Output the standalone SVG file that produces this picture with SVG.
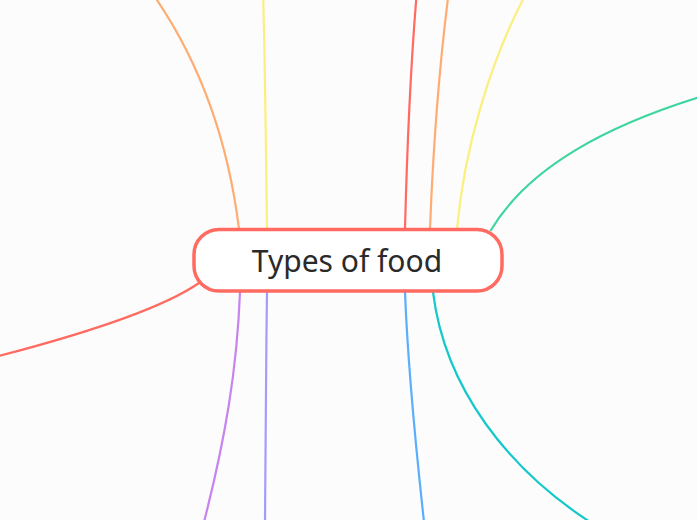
<svg xmlns="http://www.w3.org/2000/svg" width="697" height="520" viewBox="0 0 697 520">
<style>
.c{fill:none;stroke-linecap:round;stroke-width:2.2}
.t{font-family:"Noto Sans","Open Sans","Liberation Sans",sans-serif;font-size:30px;fill:#2a2a2a;text-anchor:middle}
</style>
<rect x="0" y="0" width="697" height="520" fill="#fcfcfc"/>
<g id="connectors">
<path class="c" stroke="#ffac73" d="M239,229 C228,140 200,60 150,-10"/>
<path class="c" stroke="#fbef7d" d="M267,229 C266,150 265,60 263,-10"/>
<path class="c" stroke="#ff6a61" stroke-width="2.6" d="M405,229 C407,150 411,60 417,-10"/>
<path class="c" stroke="#ffac73" d="M430,229 C433,150 440,60 449,-10"/>
<path class="c" stroke="#fbef7d" d="M457,229 C464,150 490,60 528,-10"/>
<path class="c" stroke="#3ed59e" stroke-width="2.6" d="M491,230 C530,165 610,125 700,97"/>
<path class="c" stroke="#ff6a61" stroke-width="2.6" d="M199,283 C160,310 80,335 -5,357"/>
<path class="c" stroke="#c784ef" d="M240,292 C237,370 225,440 204,522"/>
<path class="c" stroke="#a39bff" d="M267,292 C266,370 265,450 265,522"/>
<path class="c" stroke="#5aaefc" d="M405,292 C408,370 415,440 424,522"/>
<path class="c" stroke="#14c8cb" stroke-width="2.6" d="M433,292 C445,390 510,470 590,522"/>
</g>
<g id="root">
<rect x="194" y="229.5" width="308" height="61.5" rx="25" ry="25" fill="#ffffff" stroke="#ff6a61" stroke-width="3.5"/>
<text class="t" x="347" y="272">Types of food</text>
</g>
</svg>
